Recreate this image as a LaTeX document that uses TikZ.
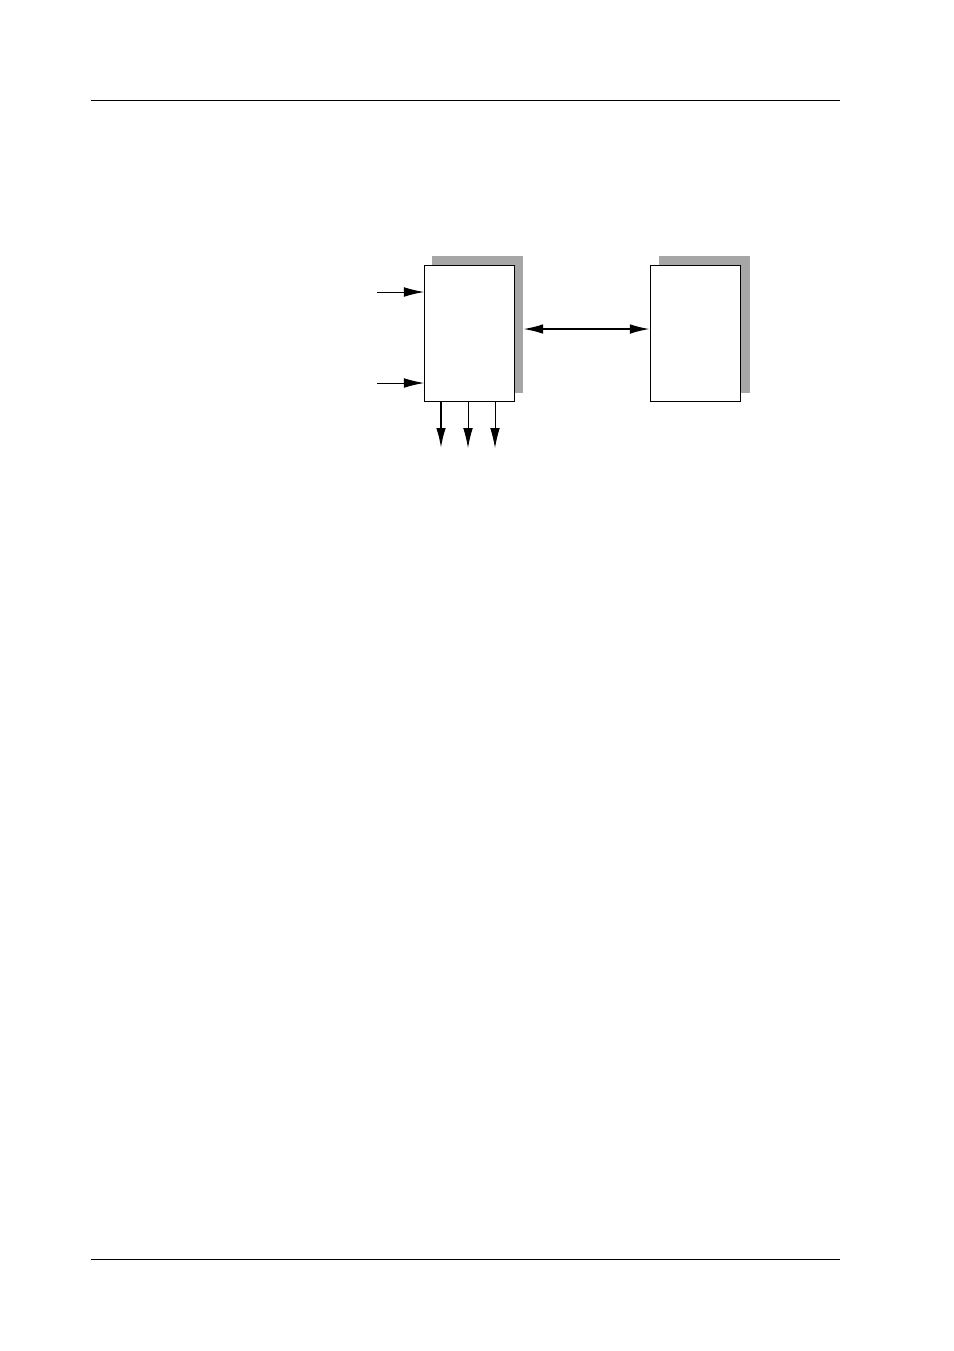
\documentclass[tikz,border=0pt]{standalone}
\usetikzlibrary{arrows.meta}
\begin{document}
\begin{tikzpicture}[x=0.025cm, y=-0.025cm, line join=miter,
	every node/.style={inner sep=0pt, outer sep=0pt, anchor=north west},
	box/.style={draw, fill=white, line width=0.7pt, minimum width=2.25cm, minimum height=3.4cm},
	shade/.style={fill=black!35, minimum width=2.275cm, minimum height=3.425cm},
	tip/.tip={Latex[length=0.5cm, width=0.24cm]},
	sig/.style={-tip, line width=0.6pt},
	bus/.style={tip-tip, line width=1.4pt}]
	\useasboundingbox (0, 0) rectangle (954, 1351);

	% Kopf- und Fusslinie
	\draw[line width=0.7pt] (91, 100) -- (840, 100);
	\draw[line width=0.7pt] (91, 1259) -- (840, 1259);

	% Bloecke mit Schatten
	\node[shade] (shadowA) at (432, 256) {};
	\node[box] (boxA) at (424, 265) {};
	\node[shade] (shadowB) at (659, 256) {};
	\node[box] (boxB) at (650, 265) {};

	% Eingaenge
	\coordinate (in1) at (377, 292);
	\coordinate (in2) at (377, 383);
	\draw[sig] (in1) -- (in1 -| boxA.west);
	\draw[sig] (in2) -- (in2 -| boxA.west);

	% Ausgaenge
	\coordinate (out1) at (441, 448);
	\coordinate (out2) at (468, 448);
	\coordinate (out3) at (495, 448);
	\draw[sig, line width=1.4pt] (out1 |- boxA.south) -- (out1);
	\draw[sig] (out2 |- boxA.south) -- (out2);
	\draw[sig] (out3 |- boxA.south) -- (out3);

	% Verbindung
	\coordinate (link) at (590, 329);
	\draw[bus] (shadowA.east |- link) -- (boxB.west |- link);
\end{tikzpicture}
\end{document}
